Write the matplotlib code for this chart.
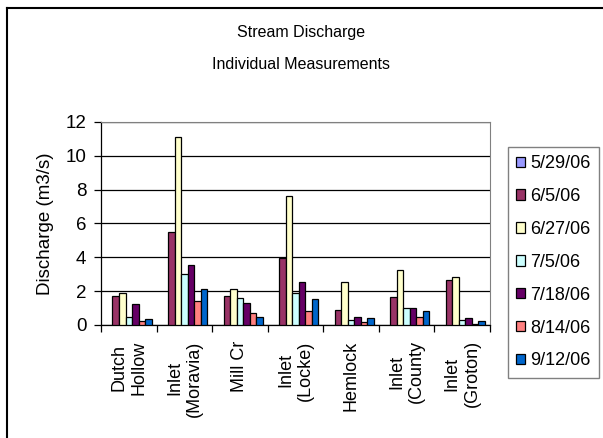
import numpy as np
import matplotlib.pyplot as plt
from matplotlib.lines import Line2D

plt.rcParams['font.family'] = ['Liberation Sans', 'Arial', 'DejaVu Sans']

sites = ["Dutch\nHollow", "Inlet\n(Moravia)", "Mill Cr", "Inlet\n(Locke)",
         "Hemlock", "Inlet\n(County", "Inlet\n(Groton)"]
dates = ["5/29/06", "6/5/06", "6/27/06", "7/5/06", "7/18/06", "8/14/06", "9/12/06"]

# discharge (m3/s) per date, one value per site
q_0529 = [np.nan] * 7
q_0605 = [1.72, 5.48, 1.72, 3.98, 0.91, 1.64, 2.64]
q_0627 = [1.91, 11.1, 2.13, 7.63, 2.54, 3.25, 2.86]
q_0705 = [0.49, 3.04, 1.62, 1.91, 0.28, 1.00, 0.30]
q_0718 = [1.22, 3.57, 1.32, 2.54, 0.49, 1.00, 0.41]
q_0814 = [0.22, 1.42, 0.71, 0.81, 0.20, 0.49, 0.05]
q_0912 = [0.38, 2.11, 0.49, 1.52, 0.39, 0.81, 0.22]

series = [q_0529, q_0605, q_0627, q_0705, q_0718, q_0814, q_0912]
colors = ["#9999FF", "#993366", "#FFFFCC", "#CCFFFF", "#660066", "#FF8080", "#0066CC"]

fig = plt.figure(figsize=(6.03, 4.38), dpi=100)
ax = fig.add_axes([0.1675, 0.258, 0.645, 0.4635])

x = np.arange(len(sites))
w = 1 / 8.5
for i, (vals, c, lab) in enumerate(zip(series, colors, dates)):
    ax.bar(x + (i - 3) * w, vals, width=w, color=c, edgecolor="black",
           linewidth=0.9, label=lab, zorder=3)

ax.set_xlim(-0.5, len(sites) - 0.5)
ax.set_ylim(0, 12)
ax.set_yticks(np.arange(0, 13, 2))
ax.yaxis.grid(True, color="black", linewidth=0.9, zorder=0)
ax.tick_params(axis="y", labelsize=13.5, length=5, width=0.9, direction="out", pad=5.5)

ax.set_xticks(x)
ax.set_xticklabels(sites, rotation=90, ha="center", va="top",
                   multialignment="center", fontsize=13)
ax.tick_params(axis="x", which="major", length=0, pad=11)
ax.set_xticks(np.arange(-0.5, len(sites), 1), minor=True)
ax.tick_params(axis="x", which="minor", length=5, width=0.9, direction="out")

for s in ["top", "right"]:
    ax.spines[s].set_color("#808080")
for s in ["left", "bottom"]:
    ax.spines[s].set_color("black")
    ax.spines[s].set_linewidth(0.9)

ax.set_ylabel("Discharge (m3/s)", fontsize=13.5, labelpad=8)

fig.text(0.5, 0.925, "Stream Discharge", ha="center", va="center", fontsize=11.5)
fig.text(0.5, 0.852, "Individual Measurements", ha="center", va="center", fontsize=11.5)

leg = fig.legend(loc="upper left", bbox_to_anchor=(508 / 603, 1 - 147 / 438),
                 fontsize=13, handlelength=0.5, handleheight=0.5,
                 handletextpad=0.3, labelspacing=0.88, borderpad=0.45,
                 fancybox=False, framealpha=1, edgecolor="#808080",
                 borderaxespad=0)
leg.get_frame().set_linewidth(1.0)

# chart area border (only left and top visible in the crop)
fig.add_artist(Line2D([7 / 603, 7 / 603], [0, 1 - 8 / 438], color="black", lw=1.5))
fig.add_artist(Line2D([7 / 603, 1], [1 - 8 / 438, 1 - 8 / 438], color="black", lw=1.5))

fig.savefig("out.png", dpi=100)
